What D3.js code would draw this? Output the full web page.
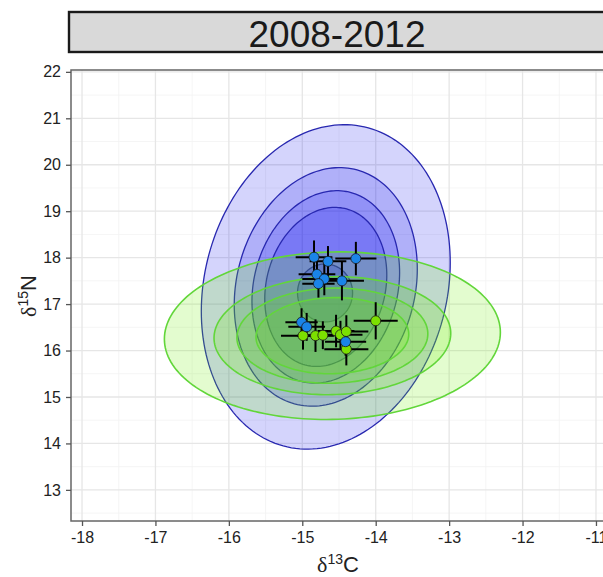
<!DOCTYPE html>
<html><head><meta charset="utf-8">
<script src="https://cdn.jsdelivr.net/npm/d3@7"></script>
<style>body{margin:0;background:#fff;overflow:hidden}</style></head>
<body>
<script>
// ---------- data ----------
const stripTitle = "2008-2012";
const xTicks = [-18, -17, -16, -15, -14, -13, -12, -11];
const yTicks = [13, 14, 15, 16, 17, 18, 19, 20, 21, 22];
const xDomain = [-18.15, -10.877];
const yDomain = [12.33, 22.04];

// blue group: points with error bars
const blueX    = [-14.84, -14.65, -14.27, -14.80, -14.70, -14.78, -14.46, -15.01, -14.94, -14.41];
const blueY    = [18.01, 17.92, 17.98, 17.64, 17.54, 17.44, 17.50, 16.61, 16.51, 16.19];
const blueXerr = [0.25, 0.25, 0.28, 0.25, 0.30, 0.22, 0.30, 0.22, 0.25, 0.28];
const blueYerr = [0.36, 0.33, 0.36, 0.30, 0.35, 0.30, 0.42, 0.30, 0.30, 0.30];

// green group
const greenX    = [-14.99, -14.82, -14.72, -14.54, -14.48, -14.40, -14.40, -14.00];
const greenY    = [16.32, 16.32, 16.33, 16.42, 16.34, 16.41, 16.03, 16.64];
const greenXerr = [0.30, 0.25, 0.25, 0.25, 0.30, 0.30, 0.30, 0.30];
const greenYerr = [0.30, 0.35, 0.30, 0.35, 0.30, 0.35, 0.35, 0.40];

// ellipses: center, sd, correlation, contour scale levels
const blueCenter = [-14.68, 17.37];
const blueSd = [0.831, 1.712];
const blueRho = 0.15;
const blueLevels = [2.04, 1.50, 1.21, 1.00];
const blueInner = [-14.69, 17.24, 0.375, 0.625];   // cx, cy, rx, ry

const greenCenter = [-14.59, 16.32];
const greenSd = [1.04, 0.82];
const greenRho = 0.04;
const greenLevels = [2.20, 1.55, 1.25, 1.00];

// ---------- chart ----------
const W = 603, H = 577;
const P = {left: 71, right: 605, top: 70, bottom: 521};

const svg = d3.select("body").append("svg")
  .attr("width", W).attr("height", H)
  .style("font-family", "'Liberation Sans', Arial, sans-serif");

const x = d3.scaleLinear().domain(xDomain).range([P.left, P.right]);
const y = d3.scaleLinear().domain(yDomain).range([P.bottom, P.top]);

// strip
svg.append("rect").attr("x", 69).attr("y", 12).attr("width", 540).attr("height", 40)
  .attr("fill", "#d9d9d9").attr("stroke", "#1a1a1a").attr("stroke-width", 2.4);
svg.append("text").attr("x", 337).attr("y", 46.5).attr("text-anchor", "middle")
  .attr("font-size", 37).attr("fill", "#1a1a1a").text(stripTitle);

// panel background + grid
svg.append("defs").append("clipPath").attr("id", "clip")
  .append("rect").attr("x", P.left).attr("y", P.top)
  .attr("width", P.right - P.left).attr("height", P.bottom - P.top);

const grid = svg.append("g").attr("clip-path", "url(#clip)");
const xMinor = d3.range(-18.5, -10, 1);
const yMinor = d3.range(12.5, 22.5, 1);
grid.selectAll(".xm").data(xMinor).enter().append("line")
  .attr("x1", d => x(d)).attr("x2", d => x(d)).attr("y1", P.top).attr("y2", P.bottom)
  .attr("stroke", "#f2f2f2").attr("stroke-width", 0.8);
grid.selectAll(".ym").data(yMinor).enter().append("line")
  .attr("y1", d => y(d)).attr("y2", d => y(d)).attr("x1", P.left).attr("x2", P.right)
  .attr("stroke", "#f2f2f2").attr("stroke-width", 0.8);
grid.selectAll(".xM").data(xTicks).enter().append("line")
  .attr("x1", d => x(d)).attr("x2", d => x(d)).attr("y1", P.top).attr("y2", P.bottom)
  .attr("stroke", "#e6e6e6").attr("stroke-width", 1.3);
grid.selectAll(".yM").data(yTicks).enter().append("line")
  .attr("y1", d => y(d)).attr("y2", d => y(d)).attr("x1", P.left).attr("x2", P.right)
  .attr("stroke", "#e6e6e6").attr("stroke-width", 1.3);

// ellipses
function ellipsePts(c, sd, rho, k) {
  return d3.range(0, 2 * Math.PI, Math.PI / 90).map(t => {
    const ex = c[0] + k * sd[0] * Math.cos(t);
    const ey = c[1] + k * sd[1] * (rho * Math.cos(t) + Math.sqrt(1 - rho * rho) * Math.sin(t));
    return [x(ex), y(ey)];
  });
}
const line = d3.line().curve(d3.curveLinearClosed);
const plot = svg.append("g").attr("clip-path", "url(#clip)");

plot.selectAll(".be").data(blueLevels).enter().append("path")
  .attr("d", k => line(ellipsePts(blueCenter, blueSd, blueRho, k)))
  .attr("fill", "#0000ee").attr("fill-opacity", 0.17)
  .attr("stroke", "#2828b0").attr("stroke-width", 1.3);
plot.append("path")
  .attr("d", line(ellipsePts([blueInner[0], blueInner[1]], [blueInner[2], blueInner[3]], 0, 1)))
  .attr("fill", "#0000ee").attr("fill-opacity", 0.2)
  .attr("stroke", "#2828b0").attr("stroke-width", 1.3);

plot.selectAll(".ge").data(greenLevels).enter().append("path")
  .attr("d", k => line(ellipsePts(greenCenter, greenSd, greenRho, k)))
  .attr("fill", "#6cf000").attr("fill-opacity", 0.19)
  .attr("stroke", "#62d63a").attr("stroke-width", 1.6);

// error bars + points
function group(X, Y, XE, YE) {
  const data = X.map((d, i) => ({x: d, y: Y[i], xe: XE[i], ye: YE[i]}));
  const g = plot.append("g");
  g.selectAll(".h").data(data).enter().append("line")
    .attr("x1", d => x(d.x - d.xe)).attr("x2", d => x(d.x + d.xe))
    .attr("y1", d => y(d.y)).attr("y2", d => y(d.y))
    .attr("stroke", "#000").attr("stroke-width", 2);
  g.selectAll(".v").data(data).enter().append("line")
    .attr("x1", d => x(d.x)).attr("x2", d => x(d.x))
    .attr("y1", d => y(d.y - d.ye)).attr("y2", d => y(d.y + d.ye))
    .attr("stroke", "#000").attr("stroke-width", 2);
  return data;
}
const bd = group(blueX, blueY, blueXerr, blueYerr);
const gd = group(greenX, greenY, greenXerr, greenYerr);
plot.selectAll(".gp").data(gd).enter().append("circle")
  .attr("cx", d => x(d.x)).attr("cy", d => y(d.y)).attr("r", 5)
  .attr("fill", "#7ce000").attr("stroke", "#1a1a1a").attr("stroke-width", 0.8);
plot.selectAll(".bp").data(bd).enter().append("circle")
  .attr("cx", d => x(d.x)).attr("cy", d => y(d.y)).attr("r", 5)
  .attr("fill", "#1a84e8").attr("stroke", "#1a1a1a").attr("stroke-width", 0.8);

// panel border
svg.append("rect").attr("x", P.left).attr("y", P.top)
  .attr("width", P.right - P.left).attr("height", P.bottom - P.top)
  .attr("fill", "none").attr("stroke", "#666").attr("stroke-width", 1.5);

// axes
const xAxis = svg.append("g").attr("transform", `translate(0,${P.bottom})`)
  .call(d3.axisBottom(x).tickValues(xTicks).tickSize(5).tickPadding(6).tickFormat(d3.format("d")));
const yAxis = svg.append("g").attr("transform", `translate(${P.left},0)`)
  .call(d3.axisLeft(y).tickValues(yTicks).tickSize(5).tickPadding(4).tickFormat(d3.format("d")));
[xAxis, yAxis].forEach(a => {
  a.select(".domain").remove();
  a.selectAll(".tick line").attr("stroke", "#555").attr("stroke-width", 1.3);
  a.selectAll(".tick text").attr("fill", "#222").attr("font-size", 16)
    .attr("font-family", "'Liberation Sans', Arial, sans-serif");
});
xAxis.selectAll(".tick text").text(d => "-" + Math.abs(d));
yAxis.selectAll(".tick text").attr("dx", -1);

// axis titles
const xt = svg.append("text").attr("x", 338).attr("y", 572).attr("text-anchor", "middle")
  .attr("font-size", 22).attr("fill", "#222");
xt.append("tspan").attr("font-family", "'Liberation Serif', serif").text("δ");
xt.append("tspan").attr("font-size", 14).attr("dy", -8).text("13");
xt.append("tspan").attr("dy", 8).text("C");

const yt = svg.append("text").attr("transform", "translate(36,296) rotate(-90)")
  .attr("text-anchor", "middle").attr("font-size", 22).attr("fill", "#222");
yt.append("tspan").attr("font-family", "'Liberation Serif', serif").text("δ");
yt.append("tspan").attr("font-size", 14).attr("dy", -8).text("15");
yt.append("tspan").attr("dy", 8).text("N");
</script>
</body></html>
